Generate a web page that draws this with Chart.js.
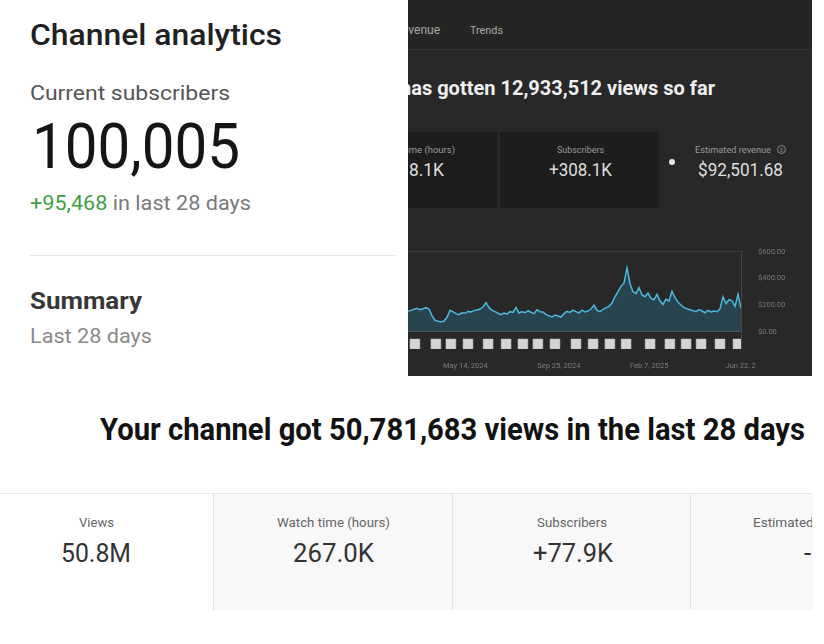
<!DOCTYPE html>
<html>
<head>
<meta charset="utf-8">
<script src="https://cdn.jsdelivr.net/npm/chart.js@4.4.1/dist/chart.umd.min.js"></script>
<style>
html,body{margin:0;padding:0;background:#fff;}
body{width:824px;height:644px;position:relative;overflow:hidden;font-family:Roboto,"Noto Sans",sans-serif;}
.t{position:absolute;line-height:1;white-space:nowrap;transform-origin:0 0;}
#panel{position:absolute;left:408px;top:0;width:404px;height:376px;background:#282828;overflow:hidden;}
#panelTop{position:absolute;left:0;top:0;width:404px;height:49px;background:#252525;border-bottom:1px solid #333;}
.dcard{position:absolute;top:132px;height:76px;background:#1d1d1d;}
#cw{position:absolute;left:0;top:240px;width:404px;height:136px;}
.card{position:absolute;top:494px;height:116px;background:#f8f8f8;border-left:1px solid #e3e3e3;overflow:hidden;}
#cardLine{position:absolute;left:0;top:493px;width:812px;height:1px;background:#e6e6e6;}
#divider{position:absolute;left:30px;top:255px;width:365px;height:1px;background:#e6e6e6;}
#info{position:absolute;left:369px;top:145px;width:7px;height:7px;border-radius:50%;border:1px solid #8a8a8a;color:#8a8a8a;font-size:6px;line-height:7px;text-align:center;}
</style>
</head>
<body>
<div class="t" data-x="30" data-b="45" data-fs="29" data-w="252" style="font-weight:500;color:#212121">Channel analytics</div>
<div class="t" data-x="30" data-b="101" data-fs="21" data-w="200" style="color:#555">Current subscribers</div>
<div class="t" data-x="32" data-b="168" data-fs="63" data-w="208" style="color:#151515">100,005</div>
<div class="t" data-x="30" data-b="211" data-fs="21" data-w="221" style="color:#7a7a7a"><span style="color:#3f9f44">+95,468</span> in last 28 days</div>
<div id="divider"></div>
<div class="t" data-x="30" data-b="309" data-fs="23" data-w="112" style="font-weight:700;color:#383838">Summary</div>
<div class="t" data-x="30" data-b="344" data-fs="21" data-w="122" style="color:#8a8a8a">Last 28 days</div>

<div id="panel">
  <div id="panelTop"></div>
  <div class="t" data-x="32" data-b="34" data-fs="12" data-a="r" style="color:#a8a8a8">Revenue</div>
  <div class="t" data-x="62" data-b="34" data-fs="10" data-w="33" style="color:#a8a8a8">Trends</div>
  <div class="t" data-x="-8" data-b="95" data-fs="20" data-w="315" style="font-weight:700;color:#efefef">has gotten 12,933,512 views so far</div>
  <div class="dcard" style="left:0;width:89px;"></div>
  <div class="dcard" style="left:92px;width:159px;"></div>
  <div class="t" data-x="47" data-b="153" data-fs="9.5" data-a="r" style="color:#9a9a9a">Watch time (hours)</div>
  <div class="t" data-x="1" data-b="177" data-fs="17.5" data-w="35" style="color:#dedede">8.1K</div>
  <div class="t" data-x="172" data-b="153" data-fs="8.5" data-w="47" data-a="c" style="color:#9a9a9a">Subscribers</div>
  <div class="t" data-x="172" data-b="177" data-fs="17.5" data-w="63" data-a="c" style="color:#dedede">+308.1K</div>
  <div style="position:absolute;left:261px;top:159px;width:6px;height:6px;border-radius:50%;background:#e8e8e8;"></div>
  <div class="t" data-x="287" data-b="153" data-fs="8.5" data-w="76" style="color:#9a9a9a">Estimated revenue</div>
  <div id="info">$</div>
  <div class="t" data-x="332" data-b="177" data-fs="17.5" data-w="85" data-a="c" style="color:#dedede">$92,501.68</div>
  <div id="cw"><canvas id="c"></canvas></div>
</div>

<div class="t" data-x="100" data-b="440" data-fs="31" data-w="705" style="font-weight:700;color:#121212">Your channel got 50,781,683 views in the last 28 days</div>

<div id="cardLine"></div>
<div class="card" style="left:213px;width:239px;"></div>
<div class="card" style="left:452px;width:238px;"></div>
<div class="card" style="left:690px;width:122px;"></div>
<div class="t" data-x="96" data-b="527" data-fs="13" data-w="35" data-a="c" style="color:#666">Views</div>
<div class="t" data-x="333.5" data-b="527" data-fs="13" data-w="113" data-a="c" style="color:#666">Watch time (hours)</div>
<div class="t" data-x="572" data-b="527" data-fs="13" data-w="70" data-a="c" style="color:#666">Subscribers</div>
<div style="position:absolute;left:690px;top:494px;width:122px;height:116px;overflow:hidden;">
  <div class="t" data-x="63" data-b="33" data-fs="13.5" style="color:#666">Estimated revenue</div>
  <div class="t" data-x="114" data-b="68" data-fs="26" style="color:#333">-</div>
</div>
<div class="t" data-x="96" data-b="562" data-fs="26" data-w="70" data-a="c" style="color:#333">50.8M</div>
<div class="t" data-x="333.5" data-b="562" data-fs="26" data-w="81" data-a="c" style="color:#333">267.0K</div>
<div class="t" data-x="573" data-b="562" data-fs="26" data-w="80" data-a="c" style="color:#333">+77.9K</div>

<script>
// ---- data ----
// daily estimated revenue (sampled), USD
const revenue = [152,160,168,176,165,172,180,170,120,85,78,72,80,108,160,148,135,128,142,138,
152,148,158,162,170,185,218,180,160,150,138,128,140,132,150,145,182,140,150,142,
158,146,135,165,150,148,128,120,110,125,118,110,135,152,145,162,150,140,162,148,
155,170,200,160,150,168,178,190,215,262,300,340,365,478,360,300,285,330,275,262,
290,250,240,280,230,205,245,230,305,255,220,200,180,172,165,158,150,165,155,142,
160,148,155,150,172,262,210,240,232,190,280,175];
const yTicks = [0, 200, 400, 600];
const dateTickLabels = ['May 14, 2024', 'Sep 25, 2024', 'Feb 7, 2025', 'Jun 22, 2'];
const dateTickIdx = [19.1, 50.3, 80.4, 110.9];
// upload markers along the time axis (sample index)
const markerIdx = [2.3, 9.3, 14.3, 20, 26.7, 32.7, 38.3, 43.3, 49, 56, 61.7, 67.3, 72.7, 80.7, 87.3, 92.7, 97.7, 104, 110];
const markerDotIdx = [9.3, 110];
const markerLevel = -92;

// ---- text layout ----
function layoutText(){
  document.querySelectorAll('.t').forEach(el=>{
    const fs = parseFloat(el.dataset.fs);
    el.style.fontSize = fs + 'px';
    el.style.transform = 'none';
    const w0 = el.getBoundingClientRect().width;
    const s = el.dataset.w ? parseFloat(el.dataset.w) / w0 : 1;
    const w = w0 * s;
    const x = parseFloat(el.dataset.x);
    const a = el.dataset.a || 'l';
    const left = a === 'c' ? x - w/2 : a === 'r' ? x - w : x;
    el.style.left = left + 'px';
    el.style.top = (parseFloat(el.dataset.b) - 0.842 * fs) + 'px';
    el.style.transform = 'scaleX(' + s + ')';
  });
}
layoutText();
if (document.fonts && document.fonts.ready) document.fonts.ready.then(layoutText);

// ---- chart ----
const ctx = document.getElementById('c');
new Chart(ctx, {
  type: 'line',
  data: {
    datasets: [
      {
        data: revenue.map((v, i) => ({x: i, y: v})),
        borderColor: '#4bb8dc',
        borderWidth: 1.5,
        pointRadius: 0,
        tension: 0,
        fill: 'origin',
        backgroundColor: 'rgba(40,96,118,0.5)'
      },
      {
        type: 'scatter',
        data: markerIdx.map(x => ({x: x, y: markerLevel})),
        pointStyle: 'rect',
        pointRadius: 7,
        backgroundColor: '#d4d4d4',
        borderColor: '#bdbdbd',
        borderWidth: 0.5
      },
      {
        type: 'scatter',
        data: markerDotIdx.map(x => ({x: x, y: markerLevel})),
        pointStyle: 'circle',
        pointRadius: 2.2,
        backgroundColor: '#2a2a2a',
        borderWidth: 0
      }
    ]
  },
  options: {
    responsive: true,
    maintainAspectRatio: false,
    animation: false,
    events: [],
    layout: {autoPadding: false, padding: {top: 11.7, left: 0, right: 0, bottom: 0}},
    plugins: {legend: {display: false}, tooltip: {enabled: false}},
    scales: {
      x: {
        type: 'linear',
        min: 0,
        max: 111,
        afterBuildTicks: s => { s.ticks = dateTickIdx.map(v => ({value: v})); },
        afterFit: s => { s.height = 27; },
        grid: {display: false, drawTicks: false},
        border: {display: false},
        ticks: {
          autoSkip: false,
          maxRotation: 0,
          padding: 13,
          color: '#7d7d7d',
          font: {family: 'Roboto', size: 7.5},
          callback: (v, i) => dateTickLabels[i]
        }
      },
      y: {
        position: 'right',
        min: -130,
        max: 600,
        afterBuildTicks: s => { s.ticks = yTicks.map(v => ({value: v})); },
        afterFit: s => { s.width = 71; },
        grid: {
          drawTicks: true,
          tickLength: 17,
          tickColor: 'rgba(0,0,0,0)',
          color: c => !c.tick ? 'rgba(0,0,0,0)' : c.tick.value === 600 ? '#3a3a3a' : c.tick.value === 0 ? '#555' : 'rgba(0,0,0,0)'
        },
        border: {color: '#444'},
        ticks: {
          padding: 0,
          color: '#7a7a7a',
          font: {family: 'Roboto', size: 7.5},
          callback: v => '$' + Number(v).toFixed(2)
        }
      }
    }
  }
});
</script>
</body>
</html>
